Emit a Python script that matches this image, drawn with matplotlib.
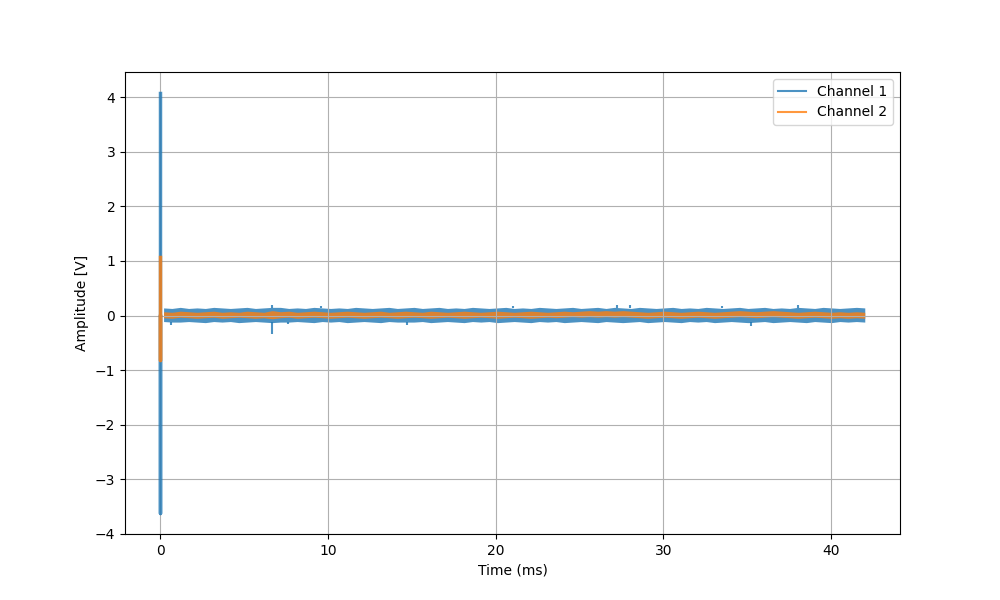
import numpy as np
import matplotlib
matplotlib.use("Agg")
import matplotlib.pyplot as plt

# start-up spike at t = 0 (ms)
spike_t = [0.0, 0.0, 0.0]
ch1_spike = [4.08, -3.62, 0.0]
ch2_spike = [1.08, -0.82, 0.0]

# min / max envelope of the noise after the spike, 85 bins from 0.2 to 42 ms
t_env = np.linspace(0.2, 42.0, 85)

ch1_hi = [0.14, 0.13, 0.15, 0.13, 0.14, 0.13, 0.15, 0.14, 0.13, 0.14, 0.15, 0.13, 0.14, 0.15, 0.15,
          0.13, 0.14, 0.13, 0.15, 0.14, 0.13, 0.14, 0.13, 0.15, 0.14, 0.13, 0.14, 0.15, 0.13, 0.14,
          0.15, 0.13, 0.14, 0.15, 0.13, 0.14, 0.13, 0.15, 0.14, 0.13, 0.14, 0.15, 0.13, 0.14, 0.13,
          0.15, 0.14, 0.13, 0.14, 0.15, 0.13, 0.14, 0.15, 0.13, 0.15, 0.14, 0.13, 0.15, 0.14, 0.13,
          0.14, 0.15, 0.13, 0.14, 0.13, 0.15, 0.14, 0.13, 0.14, 0.15, 0.13, 0.14, 0.15, 0.13, 0.14,
          0.13, 0.15, 0.14, 0.13, 0.15, 0.14, 0.13, 0.14, 0.15, 0.14]
ch1_lo = [-0.11, -0.12, -0.12, -0.11, -0.12, -0.13, -0.11, -0.12, -0.11, -0.13, -0.12, -0.11, -0.12, -0.13, -0.12,
          -0.12, -0.11, -0.12, -0.13, -0.11, -0.12, -0.11, -0.13, -0.12, -0.11, -0.12, -0.13, -0.11, -0.12, -0.12,
          -0.12, -0.11, -0.13, -0.12, -0.11, -0.12, -0.13, -0.11, -0.12, -0.11, -0.13, -0.12, -0.11, -0.12, -0.13,
          -0.11, -0.12, -0.11, -0.13, -0.12, -0.11, -0.12, -0.13, -0.11, -0.12, -0.13, -0.12, -0.11, -0.13, -0.12,
          -0.11, -0.12, -0.13, -0.11, -0.12, -0.11, -0.13, -0.12, -0.11, -0.12, -0.13, -0.12, -0.11, -0.13, -0.12,
          -0.11, -0.12, -0.13, -0.11, -0.12, -0.13, -0.11, -0.12, -0.11, -0.12]

# short glitches on channel 1 (sticking out of the noise band)
glitch_t = [0.65, 6.65, 6.65, 7.6, 9.6, 14.7, 21.0, 27.2, 28.0, 33.5, 35.2, 38.0]
glitch_v = [-0.18, 0.20, -0.33, -0.16, 0.17, -0.18, 0.17, 0.20, 0.19, 0.17, -0.20, 0.19]

ch2_hi = [0.07, 0.06, 0.08, 0.07, 0.06, 0.07, 0.08, 0.06, 0.07, 0.06, 0.08, 0.07, 0.06, 0.09, 0.07,
          0.08, 0.06, 0.07, 0.08, 0.07, 0.06, 0.07, 0.08, 0.07, 0.06, 0.07, 0.08, 0.06, 0.07, 0.08,
          0.07, 0.06, 0.08, 0.07, 0.06, 0.07, 0.08, 0.07, 0.06, 0.07, 0.08, 0.07, 0.06, 0.07, 0.08,
          0.07, 0.06, 0.07, 0.08, 0.07, 0.08, 0.09, 0.08, 0.09, 0.08, 0.09, 0.08, 0.07, 0.06, 0.07,
          0.08, 0.07, 0.06, 0.07, 0.08, 0.07, 0.06, 0.07, 0.08, 0.09, 0.08, 0.07, 0.08, 0.09, 0.08,
          0.07, 0.06, 0.07, 0.08, 0.07, 0.06, 0.07, 0.06, 0.07, 0.06]
ch2_lo = [-0.04, -0.05, -0.03, -0.04, -0.05, -0.04, -0.03, -0.05, -0.04, -0.03, -0.04, -0.05, -0.04, -0.06, -0.04,
          -0.03, -0.05, -0.04, -0.03, -0.04, -0.05, -0.04, -0.03, -0.04, -0.05, -0.04, -0.03, -0.04, -0.05, -0.04,
          -0.03, -0.04, -0.05, -0.04, -0.03, -0.04, -0.05, -0.04, -0.03, -0.04, -0.05, -0.04, -0.03, -0.04, -0.05,
          -0.04, -0.03, -0.04, -0.03, -0.02, -0.03, -0.02, -0.03, -0.02, -0.03, -0.02, -0.03, -0.04, -0.05, -0.04,
          -0.03, -0.04, -0.05, -0.04, -0.03, -0.04, -0.05, -0.04, -0.03, -0.02, -0.03, -0.04, -0.03, -0.02, -0.03,
          -0.04, -0.05, -0.04, -0.03, -0.04, -0.05, -0.04, -0.05, -0.04, -0.05]

fig, ax = plt.subplots(figsize=(10, 6), dpi=100)

ax.plot(spike_t, ch1_spike, color="C0", alpha=0.8, lw=2.5)
ax.fill_between(t_env, ch1_lo, ch1_hi, color="C0", alpha=0.8, lw=0)
glitch_base = [0.135 if v > 0 else -0.115 for v in glitch_v]
ax.vlines(glitch_t, glitch_base, glitch_v, color="C0", alpha=0.8, lw=1.5)
ax.plot(spike_t, ch2_spike, color="C1", alpha=0.8, lw=2.5)
ax.fill_between(t_env, ch2_lo, ch2_hi, color="C1", alpha=0.8, lw=0)

# legend entries
ax.plot([], [], color="C0", alpha=0.8, label="Channel 1")
ax.plot([], [], color="C1", alpha=0.8, label="Channel 2")

ax.set_xlabel("Time (ms)")
ax.set_ylabel("Amplitude [V]")
ax.grid(True)
ax.legend(loc="upper right")

plt.savefig("out.png")
